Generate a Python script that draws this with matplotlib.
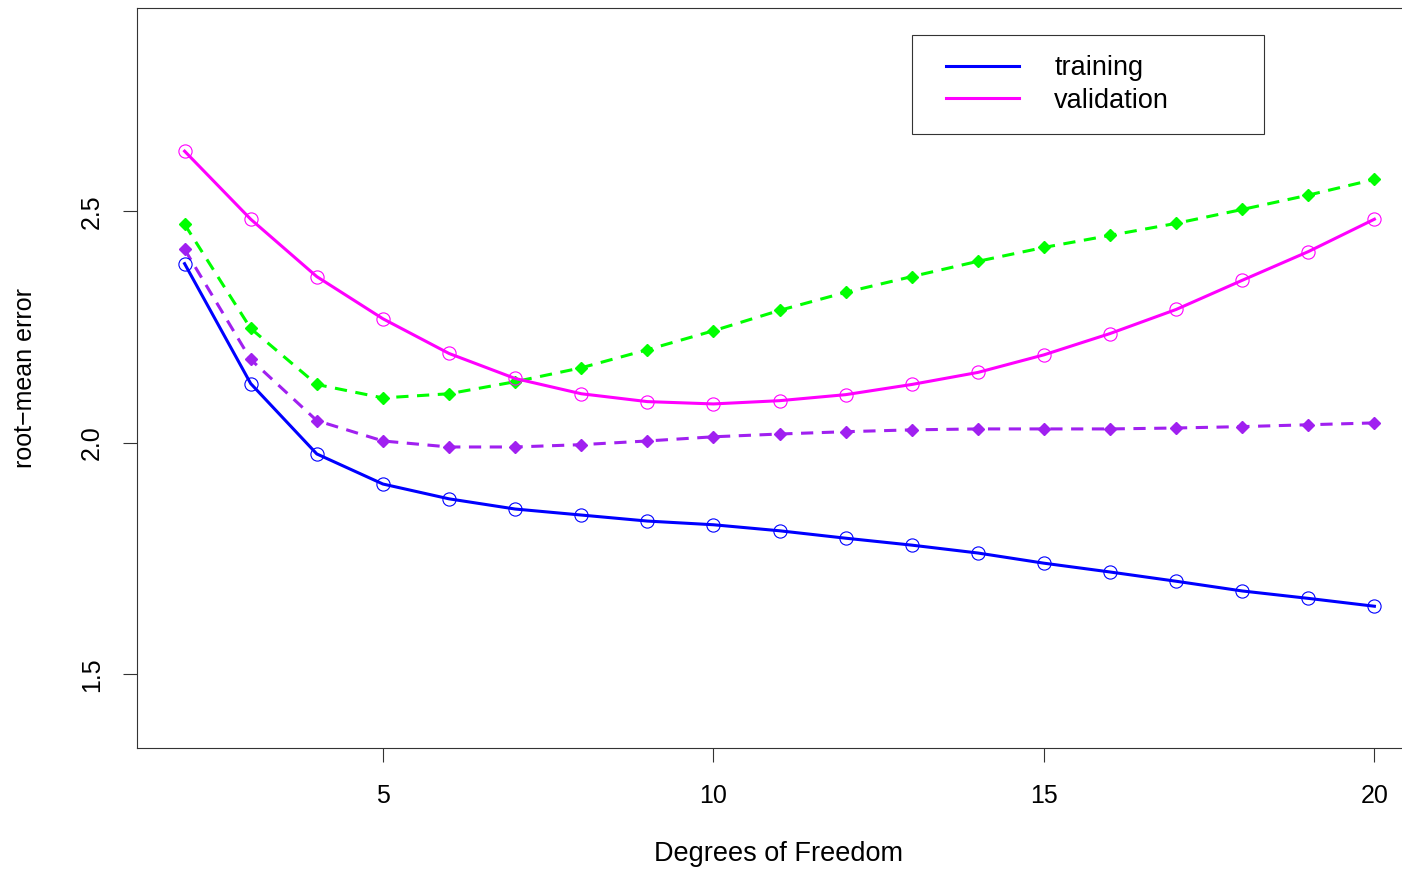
import numpy as np
import matplotlib
matplotlib.use("Agg")
import matplotlib.pyplot as plt
from matplotlib.patches import Rectangle

plt.rcParams['font.family'] = ['Liberation Sans', 'DejaVu Sans']

df = np.arange(2, 21)

train = [2.387, 2.128, 1.976, 1.911, 1.879, 1.857, 1.844, 1.831, 1.823, 1.810,
         1.794, 1.779, 1.762, 1.740, 1.721, 1.701, 1.680, 1.664, 1.647]
valid = [2.630, 2.483, 2.359, 2.268, 2.193, 2.139, 2.106, 2.089, 2.084, 2.091,
         2.104, 2.126, 2.152, 2.190, 2.236, 2.288, 2.351, 2.413, 2.483]
upper = [2.472, 2.247, 2.126, 2.097, 2.106, 2.132, 2.162, 2.201, 2.242, 2.286,
         2.325, 2.359, 2.392, 2.422, 2.448, 2.474, 2.504, 2.535, 2.569]
lower = [2.418, 2.180, 2.048, 2.004, 1.991, 1.991, 1.996, 2.004, 2.013, 2.019,
         2.024, 2.028, 2.030, 2.030, 2.030, 2.032, 2.035, 2.039, 2.043]

W, H = 1402, 871
fig = plt.figure(figsize=(W / 100, H / 100), dpi=100)
# plot region runs past the right edge of the picture, as in the original
ax = fig.add_axes([137 / W, 1 - 748 / H, (1422 - 137) / W, (748 - 8) / H])

lw = 2.2
ax.plot(df, upper, color='#00FF00', lw=lw, dashes=(4, 2.8), marker='D', ms=6.2,
        mec='#00FF00', mfc='#00FF00')
ax.plot(df, lower, color='#A020F0', lw=lw, dashes=(4, 2.8), marker='D', ms=6.2,
        mec='#A020F0', mfc='#A020F0')
ax.plot(df, train, color='#0000FF', lw=lw, marker='o', ms=9.5, mfc='none',
        mec='#0000FF', mew=0.8, label='training')
ax.plot(df, valid, color='#FF00FF', lw=lw, marker='o', ms=9.5, mfc='none',
        mec='#FF00FF', mew=0.8, label='validation')

ax.set_xlim(1.28, 20.72)
ax.set_ylim(1.3408, 2.9392)
ax.set_xticks([5, 10, 15, 20])
ax.set_yticks([1.5, 2.0, 2.5])
ax.set_yticklabels(['1.5', '2.0', '2.5'], rotation=90, va='center')
ax.tick_params(axis='both', length=10, width=0.8, labelsize=18, pad=14,
               color='#333333')
ax.tick_params(axis='x', pad=16)
for s in ax.spines.values():
    s.set_linewidth(0.8)
    s.set_color('#333333')

ax.set_xlabel('Degrees of Freedom', fontsize=19.5, va='center')
ax.xaxis.set_label_coords((779 - 137) / 1285, (748 - 854) / 740)
ax.set_ylabel('root\u2212mean error', fontsize=18, va='center')
ax.yaxis.set_label_coords((25 - 137) / 1285, 0.5)

fig.patches.append(Rectangle((912 / W, 1 - 134 / H), (1264 - 912) / W, 99 / H,
                             transform=fig.transFigure, fill=False,
                             ec='#333333', lw=0.8))
leg = ax.legend(loc='upper left', bbox_to_anchor=(946 / W, 1 - 55 / H),
                bbox_transform=fig.transFigure, frameon=False, fontsize=19.5,
                handlelength=2.7, handletextpad=1.3, labelspacing=0.25,
                borderpad=0, borderaxespad=0)
for h in leg.legend_handles:
    h.set_marker('')

fig.savefig('out.png', dpi=100)
